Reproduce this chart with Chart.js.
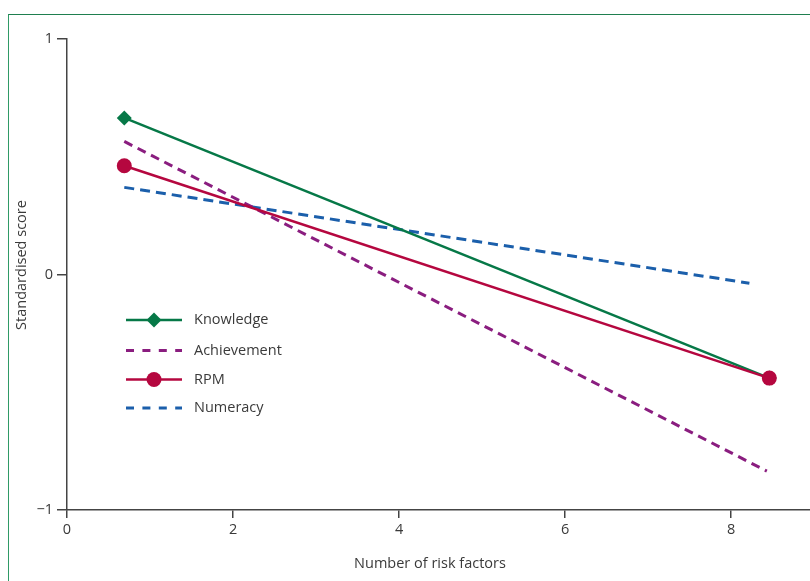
<!DOCTYPE html>
<html>
<head>
<meta charset="utf-8">
<script src="https://cdn.jsdelivr.net/npm/chart.js@4.4.1/dist/chart.umd.min.js"></script>
<style>
  html, body { margin: 0; padding: 0; width: 810px; height: 581px; overflow: hidden; background: #fff; }
  #frame { position: absolute; left: 8px; top: 14px; width: 900px; height: 700px;
           border-left: 1.5px solid #2f9a66; border-top: 1.5px solid #1f7f4f; box-sizing: border-box; }
  #wrap { position: absolute; left: 0; top: 0; width: 810px; height: 581px; }
</style>
</head>
<body>
<div id="frame"></div>
<div id="wrap"><canvas id="c" width="810" height="581"></canvas></div>
<script>
// ---- Data ----
const seriesNames = ['Knowledge', 'Achievement', 'RPM', 'Numeracy'];
const knowledgeX = [0.69, 8.46];
const knowledgeY = [0.665, -0.44];
const achievementX = [0.69, 8.43];
const achievementY = [0.565, -0.835];
const rpmX = [0.69, 8.46];
const rpmY = [0.462, -0.44];
const numeracyX = [0.69, 8.22];
const numeracyY = [0.37, -0.037];
const xTicks = [0, 2, 4, 6, 8];
const yTicks = [-1, 0, 1];
const xTitle = 'Number of risk factors';
const yTitle = 'Standardised score';

const COL = { knowledge: '#067847', achievement: '#8a1d7f', rpm: '#b5073f', numeracy: '#1b5fab', axis: '#444', text: '#3a3a3a' };
const FONT = "'Open Sans', 'Noto Sans', sans-serif";

function pts(xs, ys) { return xs.map((x, i) => ({ x: x, y: ys[i] })); }

const legendPlugin = {
  id: 'inlineLegend',
  afterDatasetsDraw(chart) {
    const ctx = chart.ctx;
    const x0 = 126, x1 = 182, tx = 194;
    const rows = [320, 350.5, 379.5, 408];
    chart.data.datasets.forEach((ds, i) => {
      const y = rows[i];
      ctx.save();
      ctx.strokeStyle = ds.borderColor;
      ctx.lineWidth = ds.borderWidth;
      ctx.setLineDash(ds.borderDash && ds.borderDash.length ? [8, 8.4] : []);
      ctx.beginPath(); ctx.moveTo(x0, y); ctx.lineTo(x1, y); ctx.stroke();
      ctx.setLineDash([]);
      if (ds.pointRadius > 0) {
        const r = ds.pointRadius, cx = (x0 + x1) / 2;
        ctx.fillStyle = ds.pointBackgroundColor;
        ctx.beginPath();
        if (ds.pointStyle === 'circle') { ctx.arc(cx, y, r, 0, Math.PI * 2); }
        else { ctx.moveTo(cx, y - r); ctx.lineTo(cx + r, y); ctx.lineTo(cx, y + r); ctx.lineTo(cx - r, y); ctx.closePath(); }
        ctx.fill();
      }
      ctx.fillStyle = COL.text;
      ctx.font = '14.5px ' + FONT;
      ctx.textBaseline = 'middle';
      ctx.textAlign = 'left';
      ctx.fillText(ds.label, tx, y);
      ctx.restore();
    });
  }
};

const titlesPlugin = {
  id: 'axisTitles',
  afterDraw(chart) {
    const ctx = chart.ctx;
    ctx.save();
    ctx.fillStyle = COL.text;
    ctx.font = '14.5px ' + FONT;
    ctx.textAlign = 'center';
    ctx.textBaseline = 'middle';
    ctx.fillText(xTitle, 430, 564);
    ctx.translate(22, 265);
    ctx.rotate(-Math.PI / 2);
    ctx.fillText(yTitle, 0, 0);
    ctx.restore();
  }
};

new Chart(document.getElementById('c'), {
  type: 'scatter',
  data: {
    datasets: [
      { label: seriesNames[0], data: pts(knowledgeX, knowledgeY), showLine: true, borderColor: COL.knowledge, backgroundColor: COL.knowledge,
        borderWidth: 2.6, pointStyle: 'rectRot', pointRadius: 7.5, pointBackgroundColor: COL.knowledge, pointBorderWidth: 0, order: 1 },
      { label: seriesNames[1], data: pts(achievementX, achievementY), showLine: true, borderColor: COL.achievement, backgroundColor: COL.achievement,
        borderWidth: 3, borderDash: [9, 6], pointRadius: 0, order: 3 },
      { label: seriesNames[2], data: pts(rpmX, rpmY), showLine: true, borderColor: COL.rpm, backgroundColor: COL.rpm,
        borderWidth: 2.6, pointStyle: 'circle', pointRadius: 7.5, pointBackgroundColor: COL.rpm, pointBorderWidth: 0, order: 0 },
      { label: seriesNames[3], data: pts(numeracyX, numeracyY), showLine: true, borderColor: COL.numeracy, backgroundColor: COL.numeracy,
        borderWidth: 3, borderDash: [10, 6], pointRadius: 0, order: 4 }
    ]
  },
  options: {
    responsive: false,
    animation: false,
    layout: { autoPadding: false, padding: { top: 39, right: 0, left: 0, bottom: 0 } },
    plugins: { legend: { display: false }, tooltip: { enabled: false } },
    scales: {
      x: {
        type: 'linear', min: 0, max: 8.95,
        afterBuildTicks(s) { s.ticks = xTicks.map(v => ({ value: v })); },
        afterFit(s) { s.height = 71; s.paddingLeft = 0; s.paddingRight = 0; },
        border: { display: true, color: COL.axis, width: 1.5 },
        grid: { display: true, drawOnChartArea: false, drawTicks: true, tickLength: 8, color: COL.axis, lineWidth: 1.5 },
        ticks: { padding: 3, color: COL.text, font: { family: FONT, size: 14.5 }, maxRotation: 0 },
        title: { display: false }
      },
      y: {
        type: 'linear', min: -1, max: 1,
        afterBuildTicks(s) { s.ticks = yTicks.map(v => ({ value: v })); },
        afterFit(s) { s.width = 67; },
        border: { display: true, color: COL.axis, width: 1.5 },
        grid: { display: true, drawOnChartArea: false, drawTicks: true, tickLength: 10, color: COL.axis, lineWidth: 1.5 },
        ticks: { padding: 4, color: COL.text, font: { family: FONT, size: 14.5 }, callback: v => (v < 0 ? '\u2212' + Math.abs(v) : String(v)) },
        title: { display: false }
      }
    }
  },
  plugins: [legendPlugin, titlesPlugin]
});
</script>
</body>
</html>
